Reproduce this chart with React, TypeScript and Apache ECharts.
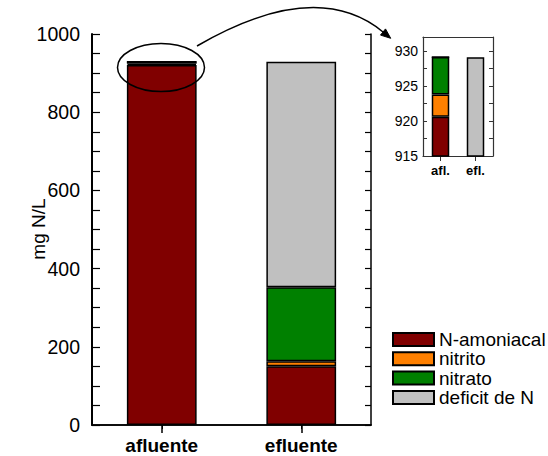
import React, { useEffect, useRef } from "react";
import * as echarts from "echarts";

const categories = ["afluente", "efluente"];
const insetCategories = ["afl.", "efl."];
const seriesNames = ["N-amoniacal", "nitrito", "nitrato", "deficit de N"];
const nAmoniacal = [920.6, 150];
const nitrito = [3.2, 13];
const nitrato = [5.35, 189];
const deficit = [0, 577.1];
const colors = ["#800000", "#FF8000", "#008000", "#C0C0C0"];
const mainTicks = { min: 0, max: 1000, interval: 200 };
const insetTicks = { min: 915, max: 932, interval: 2.5 };
const yTitle = "mg N/L";

const FONT = "'Liberation Sans', Arial, sans-serif";

export default function App() {
  const ref = useRef<HTMLDivElement>(null);
  useEffect(() => {
    if (!ref.current) return;
    const chart = echarts.init(ref.current, null, { renderer: "svg" });
    const values = [nAmoniacal, nitrito, nitrato, deficit];
    const mkSeries = (stack: string, xi: number, yi: number) =>
      seriesNames.map((name, i) => ({
        type: "bar",
        name,
        stack,
        xAxisIndex: xi,
        yAxisIndex: yi,
        barWidth: "50%",
        data: values[i],
        itemStyle: { color: colors[i], borderColor: "#000", borderWidth: 1.5 },
        emphasis: { disabled: true },
      }));
    const axisLine = (color: string, width: number) => ({ show: true, lineStyle: { color, width } });
    const option: any = {
      animation: false,
      textStyle: { fontFamily: FONT },
      grid: [
        { left: 92, top: 34, width: 279, height: 391 },
        { left: 423, top: 37, width: 70, height: 119 },
      ],
      xAxis: [
        {
          type: "category", gridIndex: 0, data: categories, position: "bottom",
          axisLine: axisLine("#000", 1.5),
          axisTick: { show: true, alignWithLabel: true, length: 8, inside: false, lineStyle: { color: "#000", width: 1.5 } },
          axisLabel: { color: "#000", fontSize: 19, fontWeight: "bold", fontFamily: FONT, margin: 11 },
        },
        {
          type: "category", gridIndex: 0, data: categories, position: "top",
          axisLine: axisLine("#000", 1.5),
          axisTick: { show: true, alignWithLabel: true, length: 4, inside: true, lineStyle: { color: "#000" } },
          axisLabel: { show: false },
        },
        {
          type: "category", gridIndex: 1, data: insetCategories, position: "bottom",
          axisLine: axisLine("#333", 1.2),
          axisTick: { show: true, alignWithLabel: true, length: 5, inside: false, lineStyle: { color: "#333" } },
          axisLabel: { color: "#000", fontSize: 13, fontWeight: "bold", fontFamily: FONT, margin: 8 },
        },
        {
          type: "category", gridIndex: 1, data: insetCategories, position: "top",
          axisLine: axisLine("#333", 1.2),
          axisTick: { show: false },
          axisLabel: { show: false },
        },
      ],
      yAxis: [
        {
          type: "value", gridIndex: 0, position: "left", ...mainTicks,
          axisLine: axisLine("#000", 2),
          axisTick: { show: true, inside: true, length: 8, lineStyle: { color: "#000", width: 1.2 } },
          minorTick: { show: true, splitNumber: 4, length: 8, lineStyle: { color: "#000", width: 1.2 } },
          splitLine: { show: false },
          axisLabel: { color: "#000", fontSize: 19.5, fontFamily: FONT, margin: 12, formatter: (v: number) => String(v) },
        },
        {
          type: "value", gridIndex: 0, position: "right", ...mainTicks,
          axisLine: axisLine("#000", 1.5),
          axisTick: { show: true, inside: true, length: 6, lineStyle: { color: "#000", width: 1.2 } },
          minorTick: { show: true, splitNumber: 4, length: 6, lineStyle: { color: "#000", width: 1.2 } },
          splitLine: { show: false },
          axisLabel: { show: false },
        },
        {
          type: "value", gridIndex: 1, position: "left", ...insetTicks,
          axisLine: axisLine("#333", 1.2),
          axisTick: { show: true, inside: true, length: 4, lineStyle: { color: "#333" } },
          splitLine: { show: false },
          axisLabel: {
            color: "#000", fontSize: 14, fontFamily: FONT, margin: 5, showMaxLabel: false,
            formatter: (v: number) => (v % 5 === 0 ? String(v) : ""),
          },
        },
        {
          type: "value", gridIndex: 1, position: "right", ...insetTicks,
          axisLine: axisLine("#333", 1.2),
          axisTick: { show: true, inside: true, length: 4, lineStyle: { color: "#333" } },
          splitLine: { show: false },
          axisLabel: { show: false },
        },
      ],
      legend: {
        orient: "vertical",
        left: 392,
        top: 330,
        padding: 0,
        itemWidth: 41,
        itemHeight: 13,
        itemGap: 0.3,
        icon: "rect",
        selectedMode: false,
        data: seriesNames,
        textStyle: { color: "#000", fontSize: 19, lineHeight: 19, fontFamily: FONT },
      },
      series: [...mkSeries("main", 0, 0), ...mkSeries("inset", 2, 2)],
      graphic: [
        {
          type: "text",
          x: 38,
          y: 229,
          rotation: Math.PI / 2,
          style: { text: yTitle, fill: "#000", fontSize: 19, fontFamily: FONT, align: "center", verticalAlign: "middle" },
        },
        {
          type: "ellipse",
          shape: { cx: 161, cy: 67.5, rx: 43.5, ry: 24 },
          style: { fill: "none", stroke: "#000", lineWidth: 1.5 },
          z: 100,
        },
        {
          type: "bezierCurve",
          shape: { x1: 197, y1: 46, x2: 383, y2: 32, cpx1: 316, cpy1: -23 },
          style: { fill: "none", stroke: "#000", lineWidth: 1.5 },
          z: 100,
        },
        {
          type: "polygon",
          shape: { points: [[390.7, 38.3], [380.5, 35.1], [385.5, 28.9]] },
          style: { fill: "#000", stroke: "#000", lineWidth: 1 },
          z: 100,
        },
      ],
    };
    chart.setOption(option);
    return () => chart.dispose();
  }, []);
  return <div ref={ref} style={{ width: 548, height: 456, position: "absolute", left: 0, top: 0 }} />;
}
